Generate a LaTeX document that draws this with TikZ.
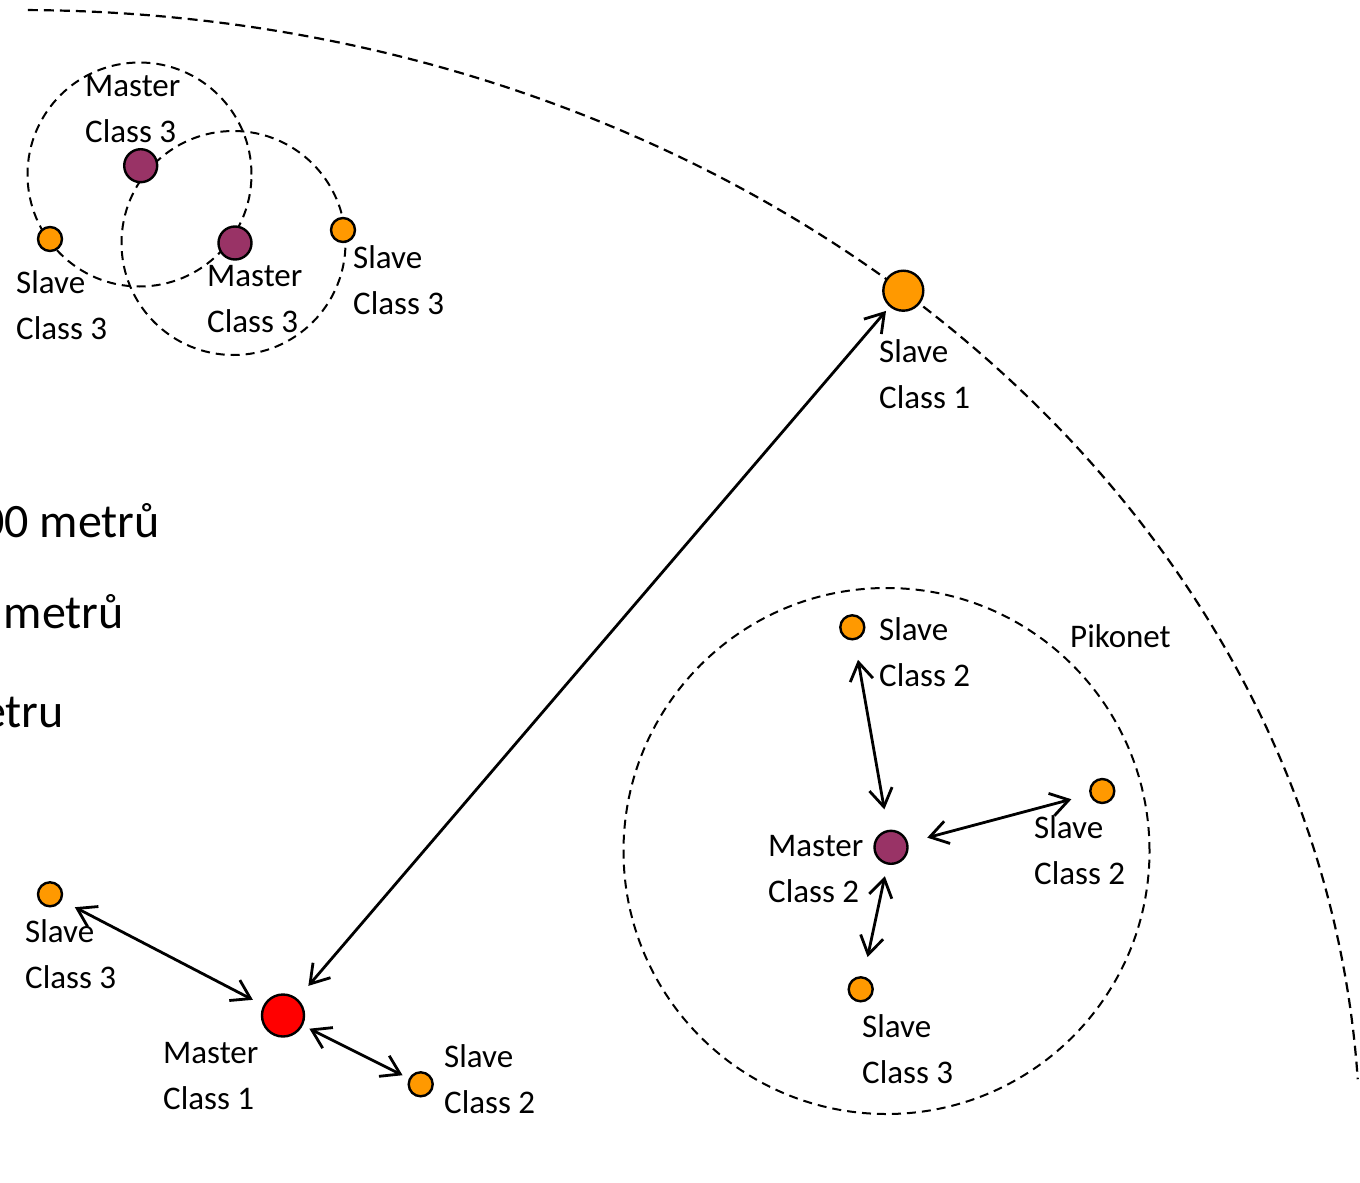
\documentclass[tikz,border=0pt]{standalone}
\usepackage{fontspec}
\setmainfont{Carlito}
\usetikzlibrary{arrows.meta}
\definecolor{slaveorange}{RGB}{255,153,0}
\definecolor{masterpurple}{RGB}{153,51,102}
\definecolor{masterred}{RGB}{255,0,0}
% two stacked label lines, baseline at the first line
\newcommand{\twoline}[2]{\begin{tabular}[t]{@{}l@{}}#1\\#2\end{tabular}}

\begin{document}
\begin{tikzpicture}[x=1pt,y=1pt,
  dev/.style={circle, draw=black, line width=2.4pt, inner sep=0pt, outer sep=0pt},
  slave/.style={dev, fill=slaveorange, minimum size=24pt},
  slavebig/.style={dev, fill=slaveorange, minimum size=40pt},
  mastersmall/.style={dev, fill=masterpurple, minimum size=33pt},
  masterbig/.style={dev, fill=masterred, minimum size=42pt},
  reachring/.style={circle, draw=black, line width=2pt, dash pattern=on 9pt off 6pt, inner sep=0pt, outer sep=0pt},
  bigreach/.style={draw=black, line width=2.2pt, dash pattern=on 10pt off 6pt},
  lbl/.style={anchor=base west, inner sep=0pt, font=\fontsize{33}{46.5}\selectfont},
  dist/.style={anchor=base east, inner sep=0pt, font=\fontsize{48}{58}\selectfont},
  link/.style={line width=2.8pt, {Straight Barb[length=18pt,width=23pt]}-{Straight Barb[length=18pt,width=23pt]}},
]
\useasboundingbox (0,0) rectangle (1360,-1183);
\clip (0,0) rectangle (1360,-1183);

% outer reach of the class 1 device
\coordinate (ec) at (20,-1144.5);
\draw[bigreach] ([shift={(89.66:1340 and 1134.5)}]ec) arc[start angle=89.66, end angle=3.3, x radius=1340, y radius=1134.5];

% reach of the class 3 masters and the piconet boundary
\node[reachring, minimum size=224pt] (rngA) at (139.5,-174.5) {};
\node[reachring, minimum size=224pt] (rngB) at (233.5,-243) {};
\node[reachring, minimum size=526pt] (pico) at (886.5,-851) {};

% devices
\node[mastersmall] (m3a) at (140.7,-165.7) {};
\node[mastersmall] (m3b) at (235,-243) {};
\node[slave] (s3a) at (50,-239) {};
\node[slave] (s3b) at (343,-230) {};
\node[slavebig] (s1) at (903.3,-290.7) {};
\node[slave] (s3c) at (50,-894.3) {};
\node[masterbig] (m1) at (283,-1015.5) {};
\node[slave] (s2a) at (420.7,-1084.3) {};
\node[slave] (s2b) at (852.3,-627.3) {};
\node[mastersmall] (m2) at (891,-847.3) {};
\node[slave] (s2c) at (1102.3,-791) {};
\node[slave] (s3d) at (860.7,-989.3) {};

% links
\draw[link, shorten <=16pt, shorten >=13pt] (s3c) -- (m1);
\draw[link, shorten <=8.5pt, shorten >=8.3pt] (m1) -- (s2a);
\draw[link, shorten <=18pt, shorten >=6.6pt] (m1) -- (s1);
\draw[link, shorten <=21pt, shorten >=22pt] (s2b) -- (m2);
\draw[link, shorten <=21pt, shorten >=20pt] (m2) -- (s2c);
\draw[link, shorten <=13pt, shorten >=21pt] (m2) -- (s3d);

% labels
\node[lbl] (lm3a) at (85,-96) {\twoline{Master}{Class 3}};
\node[lbl] (ls3a) at (16,-293) {\twoline{Slave}{Class 3}};
\node[lbl] (lm3b) at (207,-286) {\twoline{Master}{Class 3}};
\node[lbl] (ls3b) at (353,-268) {\twoline{Slave}{Class 3}};
\node[lbl] (ls1) at (879,-362) {\twoline{Slave}{Class 1}};
\node[lbl] (ls3c) at (25,-942) {\twoline{Slave}{Class 3}};
\node[lbl] (lm1) at (163,-1063) {\twoline{Master}{Class 1}};
\node[lbl] (ls2a) at (444,-1067) {\twoline{Slave}{Class 2}};
\node[lbl] (ls2b) at (879,-640) {\twoline{Slave}{Class 2}};
\node[lbl] (lm2) at (768,-856) {\twoline{Master}{Class 2}};
\node[lbl] (ls2c) at (1034,-838) {\twoline{Slave}{Class 2}};
\node[lbl] (ls3d) at (862,-1037) {\twoline{Slave}{Class 3}};
\node[lbl] (lpico) at (1070,-647) {Pikonet};

% distance legend, running off the left edge
\node[dist] (d100) at (160,-537) {00 metrů};
\node[dist] (d10) at (124,-628) {metrů};
\node[dist] (d1) at (64,-727) {etru};
\end{tikzpicture}
\end{document}
